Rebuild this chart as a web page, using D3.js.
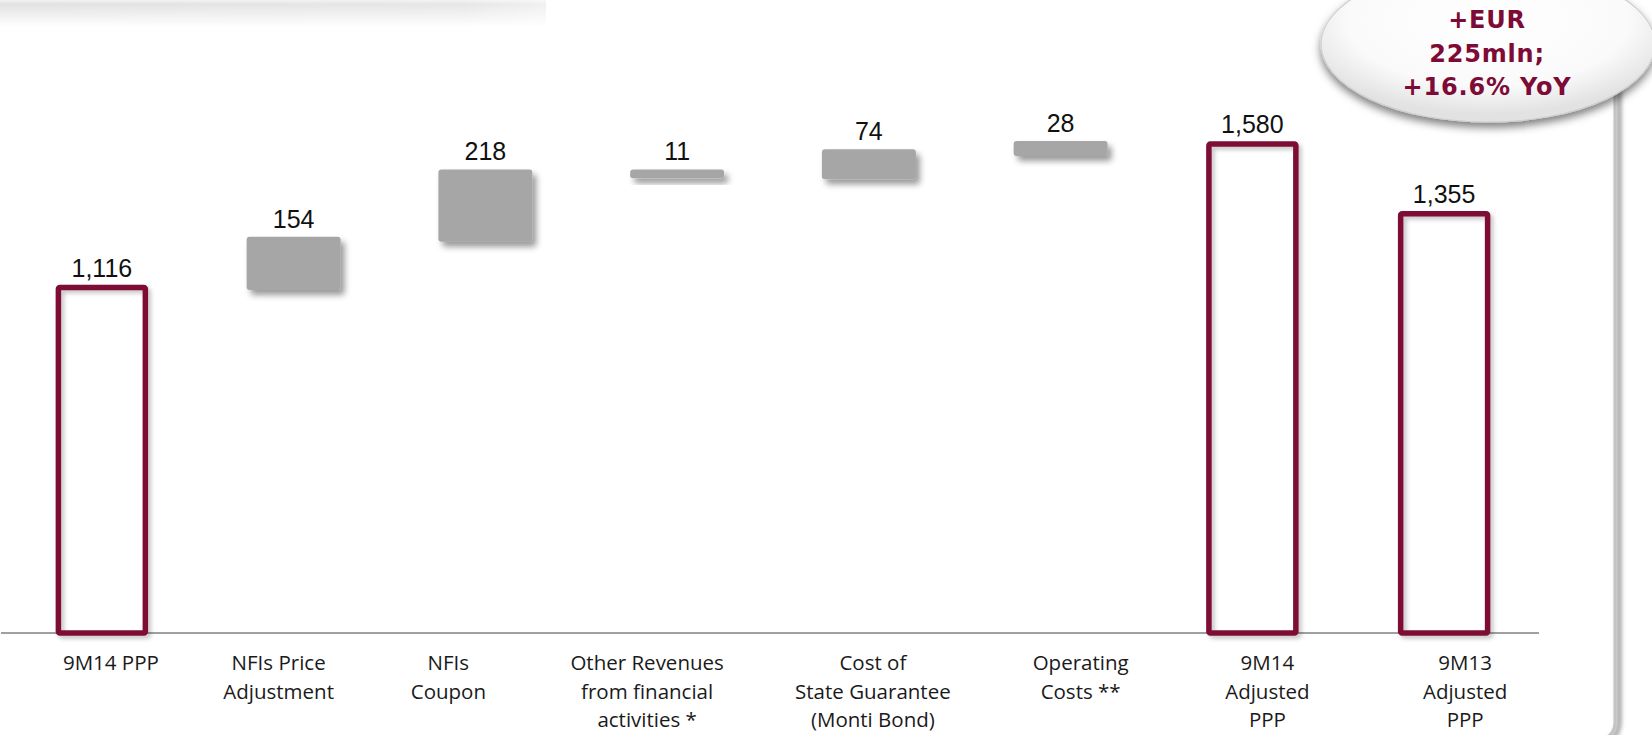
<!DOCTYPE html>
<html>
<head>
<meta charset="utf-8">
<script src="https://cdn.jsdelivr.net/npm/d3@7"></script>
<style>
  html, body { margin: 0; padding: 0; background: #ffffff; }
  svg { display: block; }
</style>
</head>
<body>
<svg id="chart" width="1652" height="735"></svg>
<script>
// ---------------- data ----------------
const categories = [
  "9M14 PPP",
  "NFIs Price Adjustment",
  "NFIs Coupon",
  "Other Revenues from financial activities *",
  "Cost of State Guarantee (Monti Bond)",
  "Operating Costs **",
  "9M14 Adjusted PPP",
  "9M13 Adjusted PPP"
];
const categoryLines = [
  ["9M14 PPP"],
  ["NFIs Price", "Adjustment"],
  ["NFIs", "Coupon"],
  ["Other Revenues", "from financial", "activities *"],
  ["Cost of", "State Guarantee", "(Monti Bond)"],
  ["Operating", "Costs **"],
  ["9M14", "Adjusted", "PPP"],
  ["9M13", "Adjusted", "PPP"]
];
const barKind  = ["total", "delta", "delta", "delta", "delta", "delta", "total", "total"];
const values   = [1116, 154, 218, 11, 74, 28, 1580, 1355];       // printed labels
const barLow   = [0, 1108, 1264, 1469, 1466, 1541, 0, 0];         // floating bar bottoms (as drawn)
const barHigh  = [1116, 1280, 1498, 1498, 1563, 1590, 1580, 1355]; // floating bar tops (as drawn)
const bubbleLines = ["+EUR", "225mln;", "+16.6% YoY"];

// ---------------- layout ----------------
const axisY = 633;
const labelNudge = [9, -15, -37, -30, 4, 20, 15, 21];
const maroon = "#7E0A36";
const grey = "#A6A6A6";

const svg = d3.select("#chart");
const defs = svg.append("defs");

const fGrey = defs.append("filter").attr("id", "shGrey")
  .attr("x", "-20%").attr("y", "-50%").attr("width", "150%").attr("height", "220%");
fGrey.append("feDropShadow").attr("dx", 4).attr("dy", 5).attr("stdDeviation", 3)
  .attr("flood-color", "#000").attr("flood-opacity", 0.4);

const fRed = defs.append("filter").attr("id", "shRed")
  .attr("x", "-20%").attr("y", "-20%").attr("width", "150%").attr("height", "150%");
fRed.append("feDropShadow").attr("dx", 3).attr("dy", 3).attr("stdDeviation", 2)
  .attr("flood-color", "#000").attr("flood-opacity", 0.22);

const fBub = defs.append("filter").attr("id", "shBub")
  .attr("x", "-20%").attr("y", "-30%").attr("width", "140%").attr("height", "170%");
fBub.append("feDropShadow").attr("dx", 0).attr("dy", 5).attr("stdDeviation", 4)
  .attr("flood-color", "#000").attr("flood-opacity", 0.5);

const fFrame = defs.append("filter").attr("id", "blurFrame")
  .attr("x", "-200%").attr("y", "-5%").attr("width", "500%").attr("height", "110%");
fFrame.append("feGaussianBlur").attr("stdDeviation", 2.2);

const gHead = defs.append("linearGradient").attr("id", "gHead")
  .attr("x1", 0).attr("y1", 0).attr("x2", 0).attr("y2", 1);
gHead.append("stop").attr("offset", 0).attr("stop-color", "#f2f2f2");
gHead.append("stop").attr("offset", 0.15).attr("stop-color", "#e2e2e2");
gHead.append("stop").attr("offset", 1).attr("stop-color", "#ffffff");

const gHeadX = defs.append("linearGradient").attr("id", "gHeadX")
  .attr("x1", 0).attr("y1", 0).attr("x2", 1).attr("y2", 0);
gHeadX.append("stop").attr("offset", 0).attr("stop-color", "#fff").attr("stop-opacity", 0);
gHeadX.append("stop").attr("offset", 0.85).attr("stop-color", "#fff").attr("stop-opacity", 0.15);
gHeadX.append("stop").attr("offset", 1).attr("stop-color", "#fff").attr("stop-opacity", 0.5);

const gBub = defs.append("radialGradient").attr("id", "gBub")
  .attr("cx", "50%").attr("cy", "35%").attr("r", "60%");
gBub.append("stop").attr("offset", 0).attr("stop-color", "#ffffff");
gBub.append("stop").attr("offset", 0.7).attr("stop-color", "#fafafa");
gBub.append("stop").attr("offset", 1).attr("stop-color", "#e2e2e2");

// header shade at top-left
svg.append("rect").attr("x", 0).attr("y", 0).attr("width", 546).attr("height", 27)
  .attr("fill", "url(#gHead)");
svg.append("rect").attr("x", 0).attr("y", 0).attr("width", 546).attr("height", 27)
  .attr("fill", "url(#gHeadX)");

// right frame edge with rounded bottom corner
const framePath = "M1615,0 L1615,722 Q1615,735 1602,740";
svg.append("path").attr("d", "M1619,0 L1619,722 Q1619,737 1605,742")
  .attr("fill", "none").attr("stroke", "#8a8a8a").attr("stroke-width", 5)
  .attr("filter", "url(#blurFrame)").attr("opacity", 0.8);
svg.append("path").attr("d", framePath)
  .attr("fill", "none").attr("stroke", "#c4c4c4").attr("stroke-width", 3);

// ---------------- scales ----------------
const x = d3.scaleBand().domain(categories).range([6, 1540])
  .paddingInner(0.51).paddingOuter(0.255);
const y = d3.scaleLinear().domain([0, 1580]).range([axisY, 144]);

// axis baseline
const axisG = svg.append("g").attr("transform", `translate(0,${axisY})`)
  .call(d3.axisBottom(x).tickSize(0).tickFormat(""));
axisG.select(".domain").attr("stroke", "#A0A0A0").attr("stroke-width", 2)
  .attr("d", "M1,0H1539");

// bars
const idx = d3.range(categories.length);
const bw = x.bandwidth();

svg.append("g").selectAll("rect")
  .data(idx.filter(i => barKind[i] === "delta"))
  .join("rect")
  .attr("x", i => x(categories[i]))
  .attr("width", bw)
  .attr("y", i => y(barHigh[i]))
  .attr("height", i => y(barLow[i]) - y(barHigh[i]))
  .attr("rx", 3).attr("ry", 3)
  .attr("fill", grey)
  .attr("filter", "url(#shGrey)");

svg.append("g").selectAll("rect")
  .data(idx.filter(i => barKind[i] === "total"))
  .join("rect")
  .attr("x", i => x(categories[i]) + 3.5)
  .attr("width", bw - 7)
  .attr("y", i => y(barHigh[i]))
  .attr("height", i => y(barLow[i]) - y(barHigh[i]))
  .attr("rx", 1.5)
  .attr("fill", "none")
  .attr("stroke", maroon)
  .attr("stroke-width", 5.5)
  .attr("filter", "url(#shRed)");

// value labels
svg.append("g").selectAll("text")
  .data(idx)
  .join("text")
  .attr("x", i => x(categories[i]) + bw / 2)
  .attr("y", i => y(barHigh[i]) - (barKind[i] === "total" ? 11 : 9))
  .attr("text-anchor", "middle")
  .attr("font-family", "'Liberation Sans', Arial, sans-serif")
  .attr("font-size", 25)
  .attr("fill", "#111")
  .text(i => d3.format(",")(values[i]));

// category labels
const catG = svg.append("g");
idx.forEach(i => {
  const t = catG.append("text")
    .attr("x", x(categories[i]) + bw / 2 + labelNudge[i])
    .attr("y", 670)
    .attr("text-anchor", "middle")
    .attr("font-family", "'Open Sans', 'Noto Sans', sans-serif")
    .attr("font-size", 20.5)
    .attr("fill", "#1a1a1a");
  categoryLines[i].forEach((ln, k) => {
    t.append("tspan").attr("x", x(categories[i]) + bw / 2 + labelNudge[i])
      .attr("dy", k === 0 ? 0 : 28.5).text(ln);
  });
});

// bubble callout
svg.append("ellipse")
  .attr("cx", 1488).attr("cy", 44).attr("rx", 167).attr("ry", 78)
  .attr("fill", "url(#gBub)").attr("stroke", "#d0d0d0").attr("stroke-width", 1.2)
  .attr("filter", "url(#shBub)");

svg.append("g").selectAll("text")
  .data(bubbleLines)
  .join("text")
  .attr("x", 1487)
  .attr("y", (d, k) => 28 + k * 33.5)
  .attr("text-anchor", "middle")
  .attr("font-family", "'DejaVu Sans', Verdana, sans-serif")
  .attr("font-weight", "bold")
  .attr("font-size", 24)
  .attr("letter-spacing", 0.8)
  .attr("fill", maroon)
  .text(d => d);
</script>
</body>
</html>
